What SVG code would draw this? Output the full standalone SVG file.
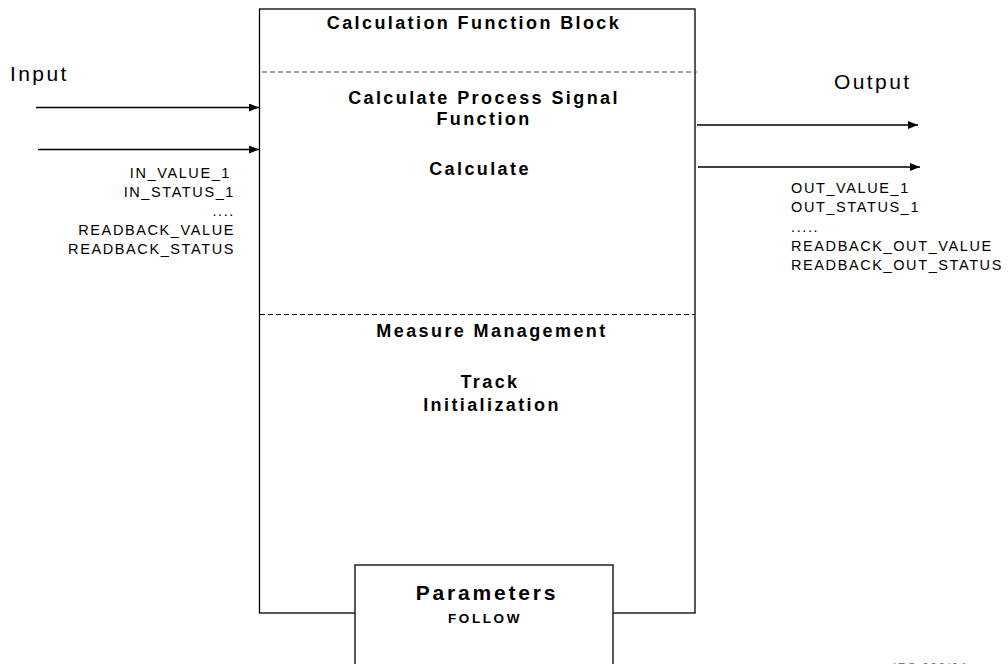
<svg xmlns="http://www.w3.org/2000/svg" width="1008" height="664" viewBox="0 0 1008 664">
<style>
text{font-family:"Liberation Sans",Arial,sans-serif;fill:#000}
.t{font-weight:bold;font-size:18px;letter-spacing:2.4px;text-anchor:middle}
.s{font-size:14.5px;letter-spacing:1.6px}
.e{text-anchor:end}
.big{font-size:21px;letter-spacing:2.4px}
.box{fill:#fff;stroke:#000;stroke-width:1.3}
.dash{stroke:#000;stroke-width:1.2;stroke-dasharray:5 3;fill:none}
.conn line{stroke:#000;stroke-width:1.3}
</style>
<defs>
<marker id="ah" viewBox="0 0 10 8" refX="10" refY="4" markerWidth="10" markerHeight="8" markerUnits="userSpaceOnUse" orient="auto">
<path d="M0,0 L10,4 L0,8 Z" fill="#000"/>
</marker>
</defs>
<g id="block">
<rect class="box" x="259.5" y="9" width="435.5" height="604"/>
<line class="dash" x1="262" y1="72" x2="697" y2="72" style="stroke:#444;stroke-width:1"/>
<line class="dash" x1="260" y1="314.5" x2="695" y2="314.5"/>
<text class="t" x="474" y="29">Calculation Function Block</text>
<text class="t" x="484" y="104">Calculate Process Signal</text>
<text class="t" x="484" y="125">Function</text>
<text class="t" x="480" y="175">Calculate</text>
<text class="t" x="492" y="337">Measure Management</text>
<text class="t" x="490" y="388">Track</text>
<text class="t" x="492" y="411">Initialization</text>
</g>
<g id="parameters">
<rect class="box" x="355" y="565" width="258" height="130"/>
<text class="t" x="487" y="600" style="font-size:21px;letter-spacing:2.8px">Parameters</text>
<text class="t" x="485" y="623" style="font-size:13.5px;letter-spacing:2.6px">FOLLOW</text>
</g>
<g id="input-labels">
<text class="big" x="10" y="81">Input</text>
<text class="s e" x="231" y="178">IN_VALUE_1</text>
<text class="s e" x="235" y="197">IN_STATUS_1</text>
<text class="s e" x="235" y="216">....</text>
<text class="s e" x="235" y="235">READBACK_VALUE</text>
<text class="s e" x="235" y="254">READBACK_STATUS</text>
</g>
<g id="output-labels">
<text class="big" x="834" y="89">Output</text>
<text class="s" x="791" y="193">OUT_VALUE_1</text>
<text class="s" x="791" y="212">OUT_STATUS_1</text>
<text class="s" x="791" y="232">.....</text>
<text class="s" x="791" y="251">READBACK_OUT_VALUE</text>
<text class="s" x="791" y="270">READBACK_OUT_STATUS</text>
</g>
<g id="connectors" class="conn">
<line x1="36" y1="107.5" x2="259" y2="107.5" marker-end="url(#ah)"/>
<line x1="38" y1="149.5" x2="259" y2="149.5" marker-end="url(#ah)"/>
<line x1="697" y1="125" x2="918" y2="125" marker-end="url(#ah)"/>
<line x1="698" y1="167" x2="920" y2="167" marker-end="url(#ah)"/>
</g>
<text x="893" y="671" style="font-size:11px;letter-spacing:2px;fill:#666">IEC 000/04</text>
</svg>
